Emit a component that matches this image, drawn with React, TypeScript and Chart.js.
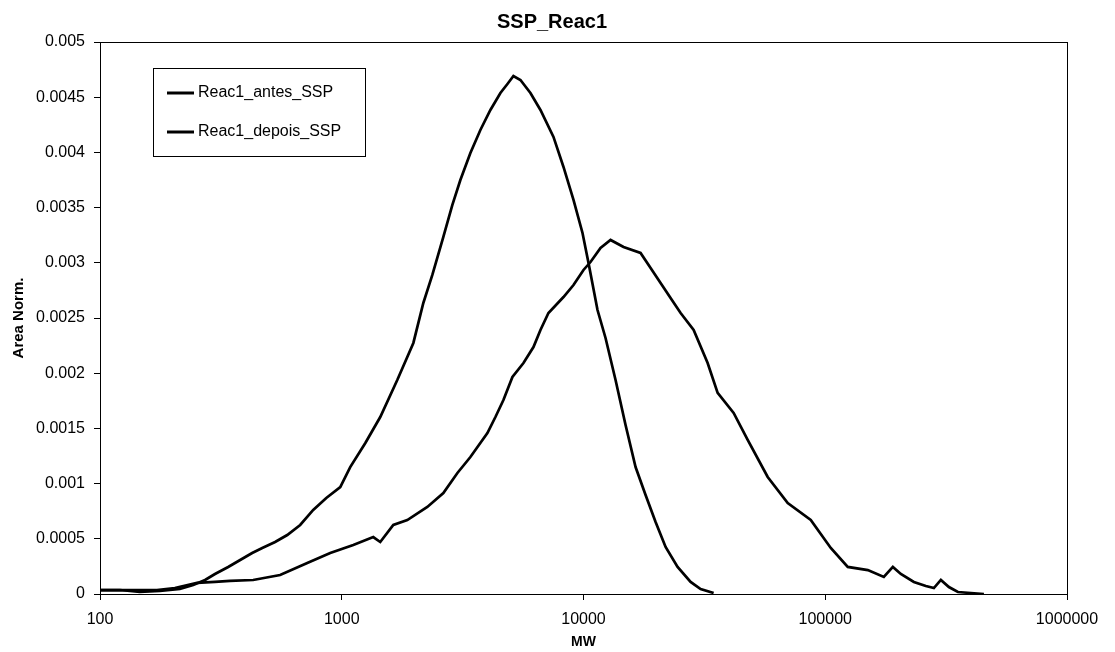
import React, { useEffect, useRef } from "react";
import { Chart, registerables } from "chart.js";

Chart.register(...registerables);

const chartTitle = "SSP_Reac1";
const xTitle = "MW";
const yTitle = "Area Norm.";
const seriesNames = ["Reac1_antes_SSP", "Reac1_depois_SSP"];

const xTickValues = [100, 1000, 10000, 100000, 1000000];
const yTickValues = [0, 0.0005, 0.001, 0.0015, 0.002, 0.0025, 0.003, 0.0035, 0.004, 0.0045, 0.005];

const antesMW = [100, 121, 146, 177, 214, 243, 272, 299, 339, 380, 426, 469, 530, 595, 673, 762, 863, 986, 1084, 1252, 1443, 1697, 1978, 2175, 2370, 2632, 2868, 3095, 3405, 3745, 4120, 4532, 4845, 5130, 5485, 6033, 6637, 7513, 8265, 9091, 9906, 10489, 11428, 12336, 13571, 14927, 16420, 18063, 19870, 21856, 24500, 27740, 30510, 34540];
const antesArea = [0.000036, 0.000036, 0.000018, 0.000027, 0.000045, 0.000082, 0.000127, 0.000181, 0.000245, 0.000308, 0.000371, 0.000417, 0.000471, 0.000534, 0.000625, 0.000761, 0.00087, 0.000969, 0.00115, 0.001368, 0.001603, 0.001938, 0.002274, 0.002636, 0.00289, 0.003234, 0.003524, 0.00375, 0.003995, 0.004203, 0.004384, 0.004538, 0.00462, 0.004692, 0.004656, 0.004538, 0.004384, 0.00414, 0.003868, 0.003569, 0.00327, 0.002998, 0.002572, 0.002319, 0.001938, 0.001531, 0.00115, 0.000897, 0.000652, 0.000426, 0.000245, 0.000109, 0.000045, 0.000009];

const depoisMW = [100, 121, 146, 172, 204, 252, 299, 345, 430, 556, 720, 896, 1116, 1350, 1443, 1634, 1867, 2259, 2632, 3009, 3405, 4004, 4322, 4664, 5082, 5645, 6209, 6637, 7161, 8265, 9091, 10000, 10690, 11760, 12940, 14645, 17220, 18950, 20840, 22920, 25220, 28550, 32620, 35880, 41790, 47770, 57800, 69950, 87100, 105400, 123900, 150000, 174700, 190400, 205400, 232600, 260700, 281400, 300800, 324700, 353800, 400500, 453200];
const depoisArea = [0.000036, 0.000036, 0.000036, 0.000036, 0.000054, 0.0001, 0.000109, 0.000118, 0.000127, 0.000172, 0.000281, 0.000371, 0.000444, 0.000516, 0.000471, 0.000625, 0.00067, 0.000788, 0.000915, 0.001096, 0.001241, 0.001458, 0.001603, 0.001757, 0.001966, 0.002092, 0.002237, 0.002391, 0.002545, 0.00269, 0.002799, 0.002935, 0.003007, 0.003134, 0.003207, 0.003143, 0.003089, 0.002953, 0.002817, 0.002681, 0.002545, 0.002391, 0.002092, 0.001821, 0.00164, 0.001395, 0.00106, 0.000824, 0.00067, 0.000417, 0.000245, 0.000217, 0.000154, 0.000245, 0.000181, 0.000109, 0.000072, 0.000054, 0.000127, 0.000063, 0.000018, 0.000009, 0];

const FONT = "'Liberation Sans', Arial, sans-serif";

const frameLegendTitle = {
  id: "frameLegendTitle",
  afterDraw(chart: any) {
    const { ctx, chartArea } = chart;
    ctx.save();
    // title
    ctx.fillStyle = "#000";
    ctx.font = `bold 20px ${FONT}`;
    ctx.textAlign = "center";
    ctx.textBaseline = "middle";
    ctx.fillText(chartTitle, chartArea.left + 452, chartArea.top - 20);
    // frame
    ctx.strokeStyle = "#000";
    ctx.lineWidth = 1;
    ctx.strokeRect(Math.round(chartArea.left) + 0.5, Math.round(chartArea.top) + 0.5, Math.round(chartArea.right - chartArea.left), Math.round(chartArea.bottom - chartArea.top));
    // legend box
    const lx = Math.round(chartArea.left) + 53;
    const ly = Math.round(chartArea.top) + 26;
    const lw = 212;
    const lh = 88;
    ctx.fillStyle = "#fff";
    ctx.fillRect(lx, ly, lw, lh);
    ctx.strokeRect(lx + 0.5, ly + 0.5, lw, lh);
    ctx.font = `16px ${FONT}`;
    ctx.textBaseline = "middle";
    ctx.textAlign = "left";
    chart.data.datasets.forEach((ds: any, i: number) => {
      const y = ly + 25 + i * 39;
      ctx.strokeStyle = ds.borderColor;
      ctx.lineWidth = 3;
      ctx.beginPath();
      ctx.moveTo(lx + 14, y);
      ctx.lineTo(lx + 41, y);
      ctx.stroke();
      ctx.fillStyle = "#000";
      ctx.fillText(ds.label, lx + 45, y);
    });
    ctx.restore();
  },
};

export default function App() {
  const ref = useRef<HTMLCanvasElement | null>(null);
  useEffect(() => {
    if (!ref.current) return;
    const toPts = (xs: number[], ys: number[]) => xs.map((x, i) => ({ x, y: ys[i] }));
    const chart = new Chart(ref.current, {
      type: "line",
      data: {
        datasets: [
          { label: seriesNames[0], data: toPts(antesMW, antesArea), borderColor: "#000", borderWidth: 2.7, pointRadius: 0, tension: 0, fill: false },
          { label: seriesNames[1], data: toPts(depoisMW, depoisArea), borderColor: "#000", borderWidth: 2.7, pointRadius: 0, tension: 0, fill: false },
        ],
      },
      options: {
        responsive: false,
        animation: false,
        layout: { padding: { left: 0, right: 48, top: 42, bottom: 0 } },
        plugins: {
          legend: { display: false },
          tooltip: { enabled: false },
          title: { display: false },
        },
        scales: {
          x: {
            type: "logarithmic",
            min: 100,
            max: 1000000,
            afterBuildTicks: (s: any) => {
              s.ticks = xTickValues.map((v) => ({ value: v }));
            },
            afterFit: (s: any) => {
              s.height = 58;
            },
            ticks: {
              color: "#000",
              font: { family: FONT, size: 16 },
              padding: 10,
              maxRotation: 0,
              autoSkip: false,
              callback: (v: any) => String(v),
            },
            grid: { display: true, drawOnChartArea: false, drawTicks: true, tickLength: 6, color: "#000" },
            border: { display: false },
            title: {
              display: true,
              text: xTitle,
              color: "#000",
              font: { family: FONT, size: 14, weight: "bold" },
              padding: { top: 0, bottom: 1 },
            },
          },
          y: {
            type: "linear",
            min: 0,
            max: 0.005,
            afterBuildTicks: (s: any) => {
              s.ticks = yTickValues.map((v) => ({ value: v }));
            },
            afterFit: (s: any) => {
              s.width = 100;
            },
            ticks: {
              color: "#000",
              font: { family: FONT, size: 16 },
              padding: 9,
              autoSkip: false,
              callback: (v: any) => String(Number(Number(v).toFixed(4))),
            },
            grid: { display: true, drawOnChartArea: false, drawTicks: true, tickLength: 6, color: "#000" },
            border: { display: false },
            title: {
              display: true,
              text: yTitle,
              color: "#000",
              font: { family: FONT, size: 15, weight: "bold" },
              padding: { top: 10, bottom: 0 },
            },
          },
        },
      },
      plugins: [frameLegendTitle],
    } as any);
    return () => chart.destroy();
  }, []);
  return (
    <div style={{ position: "absolute", left: 0, top: 0, width: 1115, height: 652, background: "#fff" }}>
      <canvas ref={ref} width={1115} height={652} />
    </div>
  );
}
